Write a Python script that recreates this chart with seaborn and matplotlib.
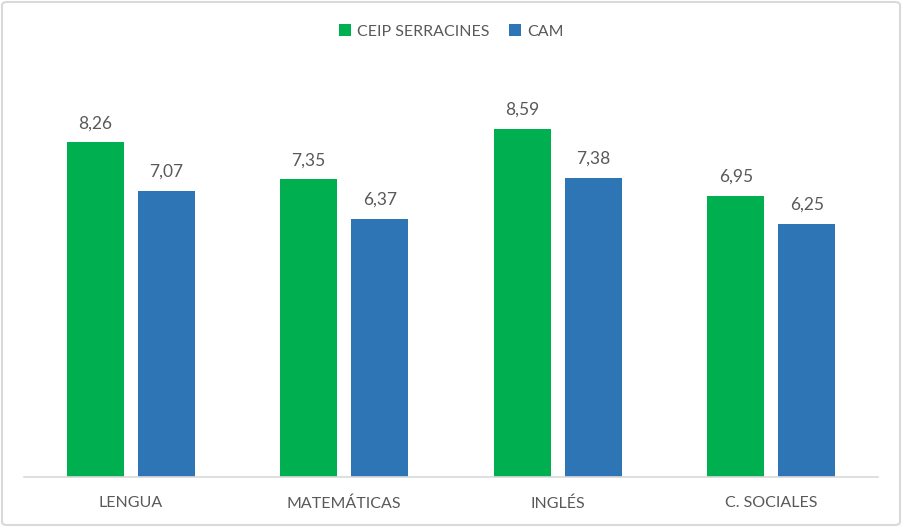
import matplotlib
matplotlib.use("Agg")
import matplotlib.pyplot as plt
import seaborn as sns
import pandas as pd
from matplotlib.patches import FancyBboxPatch

categories = ["LENGUA", "MATEMÁTICAS", "INGLÉS", "C. SOCIALES"]
series_names = ["CEIP SERRACINES", "CAM"]
ceip_values = [8.26, 7.35, 8.59, 6.95]
cam_values = [7.07, 6.37, 7.38, 6.25]
colors = ["#00B050", "#2E75B6"]

df = pd.DataFrame({
    "cat": categories * 2,
    "serie": [series_names[0]] * 4 + [series_names[1]] * 4,
    "val": ceip_values + cam_values,
})

sns.set_theme(style="white")
plt.rcParams['font.family'] = ['Lato', 'DejaVu Sans']
txt = "#595959"

fig = plt.figure(figsize=(9.02, 5.27), dpi=100)
ax = fig.add_axes([24/902, 50/527, 854/902, 405/527])
sns.barplot(data=df, x="cat", y="val", hue="serie", palette=colors,
            width=0.666, gap=0.2, ax=ax, saturation=1, legend=True, linewidth=0)
ax.set_ylim(0, 10)
ax.set_xlim(-0.5, 3.5)
ax.set_xlabel("")
ax.set_ylabel("")
ax.set_yticks([])
for s in ["top", "right", "left"]:
    ax.spines[s].set_visible(False)
ax.spines["bottom"].set_color("#D9D9D9")
ax.spines["bottom"].set_linewidth(1.2)
ax.tick_params(axis="x", length=0, pad=14, labelsize=11.5, labelcolor=txt)

for cont in ax.containers:
    ax.bar_label(cont, labels=[f"{v:.2f}".replace(".", ",") for v in cont.datavalues],
                 padding=8, fontsize=12.5, color=txt)

leg = ax.legend(loc="upper center", bbox_to_anchor=(0.5, (527-10)/527), bbox_transform=fig.transFigure,
                ncol=2, frameon=False, fontsize=11.5, handlelength=0.75, handleheight=0.75,
                columnspacing=1.2, handletextpad=0.4)
for t in leg.get_texts():
    t.set_color(txt)

border = FancyBboxPatch((2/902, 2/527), 898/902, 523/527, boxstyle="round,pad=0,rounding_size=0.006",
                        transform=fig.transFigure, fill=False, edgecolor="#D9D9D9", linewidth=1.5)
fig.patches.append(border)

fig.savefig("out.png", dpi=100)
